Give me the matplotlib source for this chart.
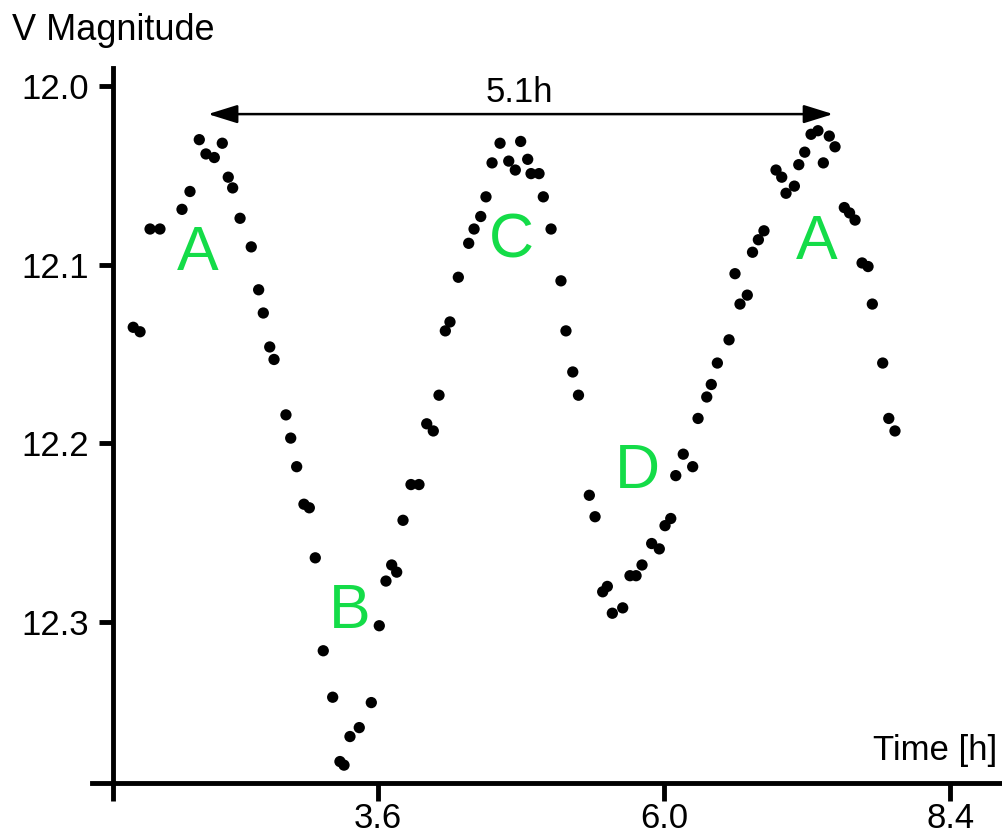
import matplotlib
matplotlib.use("Agg")
import matplotlib.pyplot as plt

plt.rcParams['font.family'] = ['Liberation Sans', 'DejaVu Sans']

# light curve: time [h] and V magnitude
time_h = [1.546, 1.603, 1.687, 1.770, 1.955, 2.022, 2.100, 2.156, 2.226, 2.293,
          2.343, 2.380, 2.442, 2.536, 2.598, 2.637, 2.691, 2.727, 2.827, 2.867,
          2.917, 2.978, 3.023, 3.073, 3.140, 3.219, 3.280, 3.314, 3.364, 3.442,
          3.543, 3.610, 3.666, 3.714, 3.756, 3.809, 3.876, 3.943, 4.008, 4.063,
          4.111, 4.164, 4.203, 4.273, 4.360, 4.405, 4.461, 4.505, 4.556, 4.623,
          4.696, 4.751, 4.796, 4.855, 4.883, 4.950, 4.986, 5.051, 5.134, 5.176,
          5.233, 5.281, 5.372, 5.420, 5.484, 5.523, 5.565, 5.652, 5.713, 5.764,
          5.814, 5.895, 5.959, 6.007, 6.055, 6.097, 6.160, 6.239, 6.284, 6.357,
          6.395, 6.446, 6.544, 6.594, 6.636, 6.697, 6.741, 6.790, 6.837, 6.938,
          6.986, 7.022, 7.092, 7.129, 7.179, 7.232, 7.290, 7.335, 7.385, 7.433,
          7.511, 7.555, 7.601, 7.660, 7.710, 7.746, 7.833, 7.884, 7.936]
v_mag = [12.135, 12.1375, 12.080, 12.080, 12.069, 12.059, 12.030, 12.038, 12.040, 12.032,
         12.051, 12.057, 12.074, 12.090, 12.114, 12.127, 12.146, 12.153, 12.184, 12.197,
         12.213, 12.234, 12.236, 12.264, 12.316, 12.342, 12.378, 12.380, 12.364, 12.359,
         12.345, 12.302, 12.277, 12.268, 12.272, 12.243, 12.223, 12.223, 12.189, 12.193,
         12.173, 12.137, 12.132, 12.107, 12.088, 12.080, 12.073, 12.062, 12.043, 12.032,
         12.042, 12.047, 12.031, 12.041, 12.049, 12.049, 12.062, 12.080, 12.109, 12.137,
         12.160, 12.173, 12.229, 12.241, 12.283, 12.280, 12.295, 12.292, 12.274, 12.274,
         12.268, 12.256, 12.259, 12.246, 12.242, 12.218, 12.206, 12.213, 12.186, 12.174,
         12.167, 12.155, 12.142, 12.105, 12.122, 12.117, 12.093, 12.086, 12.081, 12.047,
         12.051, 12.060, 12.056, 12.044, 12.037, 12.027, 12.025, 12.043, 12.028, 12.034,
         12.068, 12.071, 12.075, 12.099, 12.101, 12.122, 12.155, 12.186, 12.193]

x_ticks = [3.6, 6.0, 8.4]
y_ticks = [12.0, 12.1, 12.2, 12.3]

# feature labels
feat_text = ["A", "B", "C", "D", "A"]
feat_x = [2.089, 3.364, 4.715, 5.772, 7.282]
feat_y = [12.103, 12.303, 12.096, 12.225, 12.097]

# period arrow
arrow_start, arrow_end, arrow_y = 2.173, 7.417, 12.0157
period_label = "5.1h"

fig = plt.figure(figsize=(10.02, 8.35), dpi=100)
ax = fig.add_axes([92 / 1002, 52 / 835, 908 / 1002, 715 / 835])

ax.scatter(time_h, v_mag, s=66, color="black", edgecolors="none", zorder=3)

ax.set_xlim(1.2, 8.817)
ax.set_ylim(12.390, 11.9899)

y_axis_x = 1.376
ax.spines["top"].set_visible(False)
ax.spines["right"].set_visible(False)
ax.spines["left"].set_position(("data", y_axis_x))
for s in ["left", "bottom"]:
    ax.spines[s].set_linewidth(3.5)

ax.set_xticks([y_axis_x] + x_ticks)
ax.set_xticklabels([""] + [f"{t:.1f}" for t in x_ticks])
ax.set_yticks(y_ticks)
ax.set_yticklabels([f"{t:.1f}" for t in y_ticks])
ax.tick_params(axis="x", length=13, width=3.5, labelsize=25, pad=1)
ax.tick_params(axis="y", length=10, width=3.5, labelsize=25, pad=7)

for t, x, y in zip(feat_text, feat_x, feat_y):
    ax.text(x, y, t, color="#14dc48", fontsize=45, ha="center", va="baseline")

ax.annotate("", xy=(arrow_end, arrow_y), xytext=(arrow_start, arrow_y),
            arrowprops=dict(arrowstyle="<|-|>,head_length=0.9,head_width=0.28",
                            color="black", lw=1.8, shrinkA=0, shrinkB=0,
                            mutation_scale=20))
ax.text((arrow_start + arrow_end) / 2 - 0.01, 12.009, period_label,
        fontsize=25, ha="center", va="baseline")

fig.text(12 / 1002, 1 - 40 / 835, "V Magnitude", fontsize=26, va="baseline")
fig.text(997 / 1002, 1 - 760 / 835, "Time [h]", fontsize=25, ha="right", va="baseline")

fig.savefig("out.png", dpi=100)
